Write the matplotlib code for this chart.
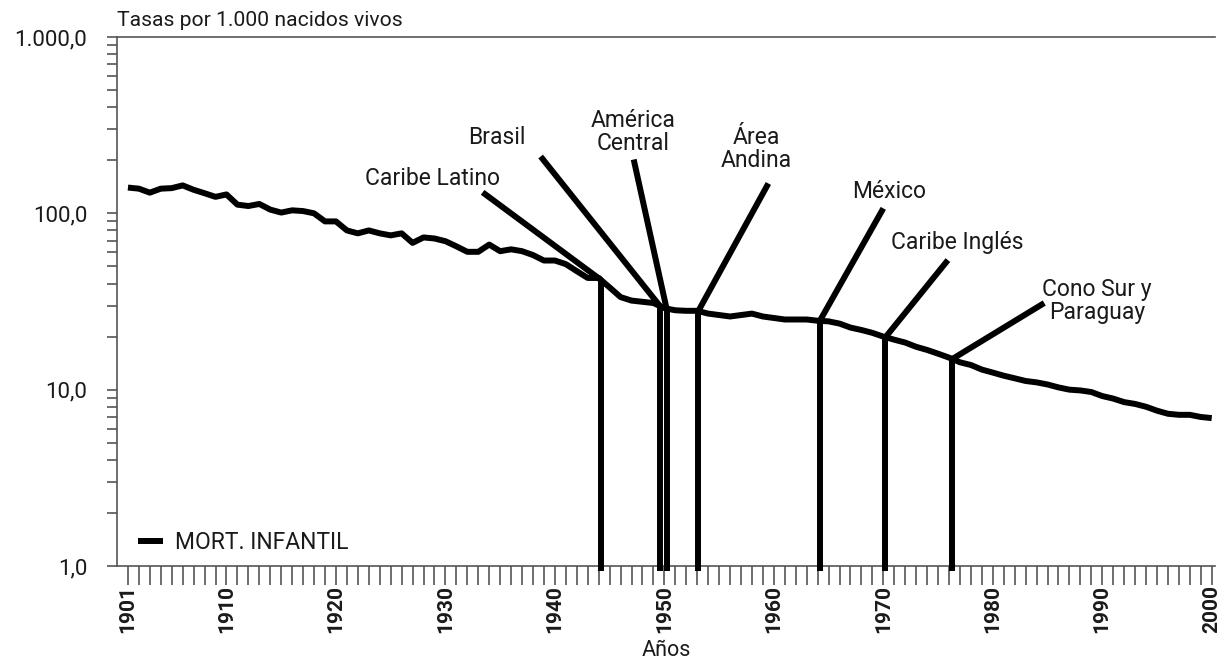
import numpy as np
import matplotlib
matplotlib.use("Agg")
import matplotlib.pyplot as plt
from matplotlib.ticker import FixedLocator, LogLocator, NullFormatter

plt.rcParams['font.family'] = ['Roboto', 'DejaVu Sans']

# ---- data ----
years = list(range(1901, 2001))
mort_infantil = [
    140, 138, 131, 138, 139, 144, 136, 130, 124, 128,      # 1901-1910
    112, 110, 113, 105, 101, 104, 103, 100, 90, 90,        # 1911-1920
    80, 77, 80, 77, 75, 77, 68, 73, 72, 69.5,              # 1921-1930
    65, 60.5, 60.5, 66.5, 61, 62.5, 61, 58, 54, 54,        # 1931-1940
    51.5, 47, 43, 43, 38, 33.5, 32, 31.5, 31, 29,          # 1941-1950
    28.2, 28, 28, 27, 26.5, 26, 26.5, 27, 26, 25.5,        # 1951-1960
    25, 25, 25, 24.6, 24.4, 23.7, 22.5, 21.8, 21, 20,      # 1961-1970
    19.2, 18.5, 17.5, 16.8, 16, 15.2, 14.3, 13.8, 13, 12.5,  # 1971-1980
    12, 11.6, 11.2, 11, 10.7, 10.3, 10, 9.9, 9.7, 9.2,     # 1981-1990
    8.9, 8.5, 8.3, 8, 7.6, 7.3, 7.2, 7.2, 7.0, 6.9,        # 1991-2000
]
series_label = "MORT. INFANTIL"

region_names = ["Caribe Latino", "Brasil", "América\nCentral", "Área\nAndina",
                "México", "Caribe Inglés", "Cono Sur y\nParaguay"]
region_years = [1944.2, 1949.6, 1950.2, 1953.1, 1964.2, 1970.2, 1976.3]
# end of leader line (year, value) and label anchor (year, value)
leader_end_x = [1933.4, 1938.7, 1947.2, 1959.5, 1970.0, 1975.9, 1984.7]
leader_end_y = [131.5, 210, 202, 147.7, 106.7, 54.3, 31.0]
label_x = [1928.8, 1934.7, 1947.1, 1958.4, 1970.5, 1976.8, 1989.5]
label_y = [157.7, 269, 290, 233, 133, 68.6, 31.8]

xtick_labels = [1901, 1910, 1920, 1930, 1940, 1950, 1960, 1970, 1980, 1990, 2000]
ytick_values = [1, 10, 100, 1000]
ytick_labels = ["1,0", "10,0", "100,0", "1.000,0"]

# ---- figure ----
fig = plt.figure(figsize=(12.25, 6.62), dpi=100)
ax = fig.add_axes([117/1225, (662-566)/662, (1215-117)/1225, (566-37)/662])

ink = "#000000"
txt = "#1a1a1a"
lw = 4.3
fs_lab = 16.5

ax.plot(years, mort_infantil, color=ink, lw=lw, solid_joinstyle='round',
        solid_capstyle='butt', label=series_label, zorder=3)

log_vals = np.log10(mort_infantil)
for ry, ex, ey, lx, ly, name in zip(region_years, leader_end_x, leader_end_y,
                                     label_x, label_y, region_names):
    v = 10 ** np.interp(ry, years, log_vals)
    ax.plot([ry, ry], [0.94, v], color=ink, lw=lw, solid_capstyle='butt',
            clip_on=False, zorder=4)
    ax.plot([ry, ex], [v, ey], color=ink, lw=lw, solid_capstyle='butt', zorder=4)
    ax.text(lx, ly, name, ha='center', va='center', fontsize=fs_lab, color=txt,
            linespacing=1.0)

ax.set_yscale('log')
ax.set_xlim(1900, 2000.3)
ax.set_ylim(1, 1000)

ax.yaxis.set_major_locator(FixedLocator(ytick_values))
ax.set_yticklabels(ytick_labels, fontsize=16, color=txt)
ax.yaxis.set_minor_locator(LogLocator(base=10, subs=np.arange(2, 10)))
ax.yaxis.set_minor_formatter(NullFormatter())
ax.tick_params(axis='y', which='both', direction='out', length=7, width=1.2,
               color='#555555', pad=14.5)

ax.xaxis.set_major_locator(FixedLocator(xtick_labels))
ax.set_xticklabels([str(v) for v in xtick_labels], rotation=90, fontsize=15,
                   fontweight='bold', color=txt)
ax.xaxis.set_minor_locator(FixedLocator(years))
ax.tick_params(axis='x', which='both', direction='out', length=14, width=1.2,
               color='#555555', pad=0)

for s in ['right']:
    ax.spines[s].set_visible(False)
for s in ['left', 'bottom', 'top']:
    ax.spines[s].set_color('#555555')
    ax.spines[s].set_linewidth(1.2)

fig.text(666/1225, 1 - 650/662, "Años", fontsize=15.5, color=txt,
         ha='center', va='center')
fig.text(117/1225, 1 - 20/662, "Tasas por 1.000 nacidos vivos", fontsize=15.2,
         color=txt, ha='left', va='center')

leg = ax.legend(loc='lower left', bbox_to_anchor=(0.0, -0.016), frameon=False,
                handlelength=1.1, handletextpad=0.55, fontsize=fs_lab)
for t in leg.get_texts():
    t.set_color(txt)

fig.savefig("out.png", dpi=100)
